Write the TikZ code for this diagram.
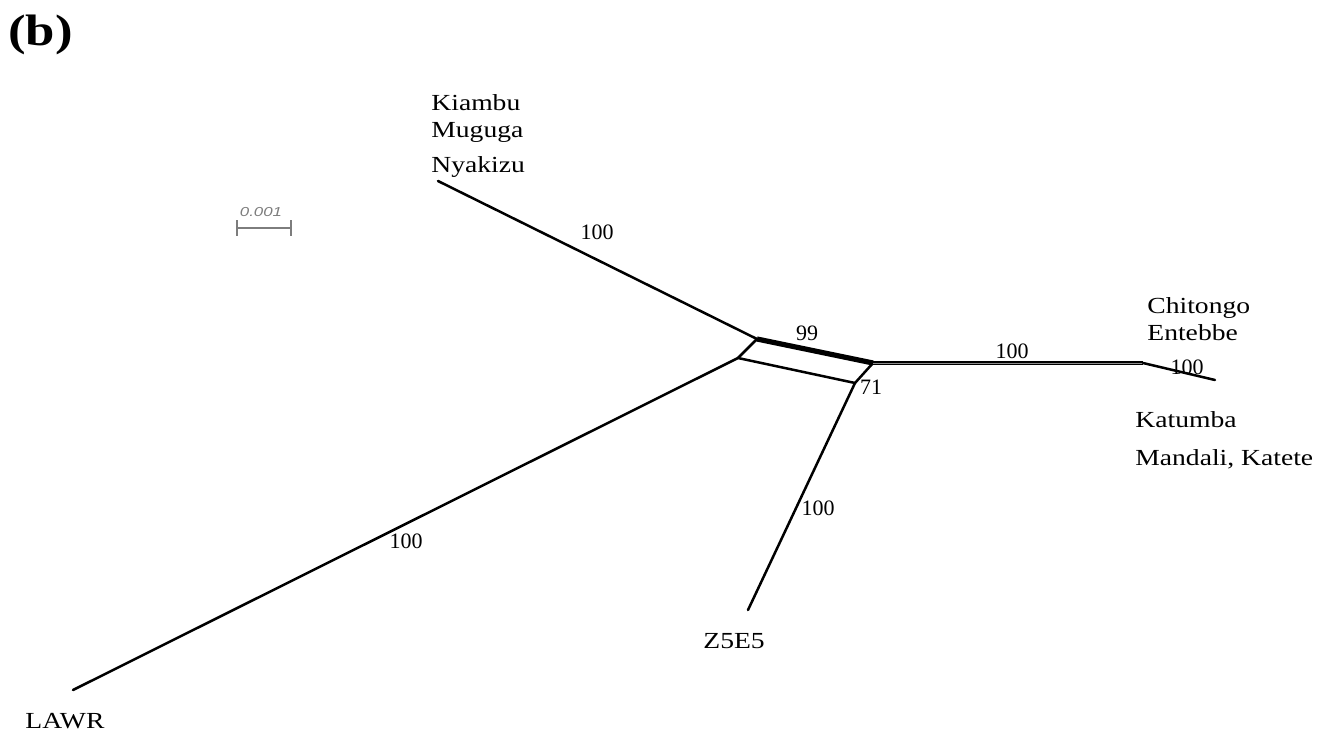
\documentclass[tikz,border=0pt]{standalone}
\usepackage{fontspec}
\setmainfont{Liberation Serif}
\newfontfamily\namefont[FakeStretch=1.2]{Liberation Serif}
\newfontfamily\boldwide[FakeStretch=1.2]{Liberation Serif Bold}
\newfontfamily\scalefont[FakeStretch=1.3]{Liberation Sans Italic}
\begin{document}
\begin{tikzpicture}[x=0.5pt,y=-0.5pt,
  edge/.style={line width=1.25pt, line cap=round},
  thickedge/.style={line width=2.6pt},
  dbl/.style={double=black!45, line width=1.05pt, double distance=0.3pt},
  taxon/.style={anchor=base west, inner sep=0pt, font=\namefont\fontsize{11.5}{13}\selectfont},
  boot/.style={inner sep=0pt, font=\fontsize{11}{13}\selectfont},
  panellabel/.style={anchor=base west, inner sep=0pt, font=\boldwide\fontsize{22}{26}\selectfont}]
\useasboundingbox (0,0) rectangle (1329,734);
% network vertices
\coordinate (A) at (757,339);
\coordinate (B) at (738,358);
\coordinate (C) at (873,363);
\coordinate (D) at (855,383);
\coordinate (E) at (1143,363);
\coordinate (kia) at (438,181);
\coordinate (law) at (73,690);
\coordinate (z5) at (748,610);
\coordinate (cht) at (1215,380);
% edges
\draw[edge] (A) -- (kia);
\draw[edge] (A) -- (B);
\draw[edge] (B) -- (law);
\draw[edge] (B) -- (D);
\draw[edge] (C) -- (D);
\draw[edge] (D) -- (z5);
\draw[thickedge] (A) -- (C);
\draw[dbl] (C) -- (E);
\draw[edge] (E) -- (cht);
% bootstrap labels
\node[boot] (b1) at (597,232) {100};
\node[boot] (b2) at (807,333) {99};
\node[boot] (b3) at (871,387) {71};
\node[boot] (b4) at (1012,351) {100};
\node[boot] (b5) at (1187,367) {100};
\node[boot] (b6) at (406,541) {100};
\node[boot] (b7) at (818,508) {100};
% taxa
\node[panellabel] (lab) at (8,45) {(b)};
\node[taxon] (t1) at (431,110) {Kiambu};
\node[taxon] (t2) at (431,137) {Muguga};
\node[taxon] (t3) at (431,172) {Nyakizu};
\node[taxon] (t4) at (1147,313) {Chitongo};
\node[taxon] (t5) at (1147,340) {Entebbe};
\node[taxon] (t6) at (1135,427) {Katumba};
\node[taxon] (t7) at (1135,465) {Mandali, Katete};
\node[taxon] (t8) at (25,728) {LAWR};
\node[taxon] (t9) at (703,648) {Z5E5};
% scale bar
\definecolor{sgray}{RGB}{125,125,125}
\node[inner sep=0pt, text=sgray, font=\scalefont\fontsize{6.5}{8}\selectfont] (sc) at (261,212) {0.001};
\coordinate (s1) at (237,228);
\coordinate (s2) at (291,228);
\draw[sgray, line width=1pt] (s1) -- (s2);
\draw[sgray, line width=1pt] ([yshift=4pt]s1) -- ([yshift=-4pt]s1);
\draw[sgray, line width=1pt] ([yshift=4pt]s2) -- ([yshift=-4pt]s2);
\end{tikzpicture}
\end{document}
